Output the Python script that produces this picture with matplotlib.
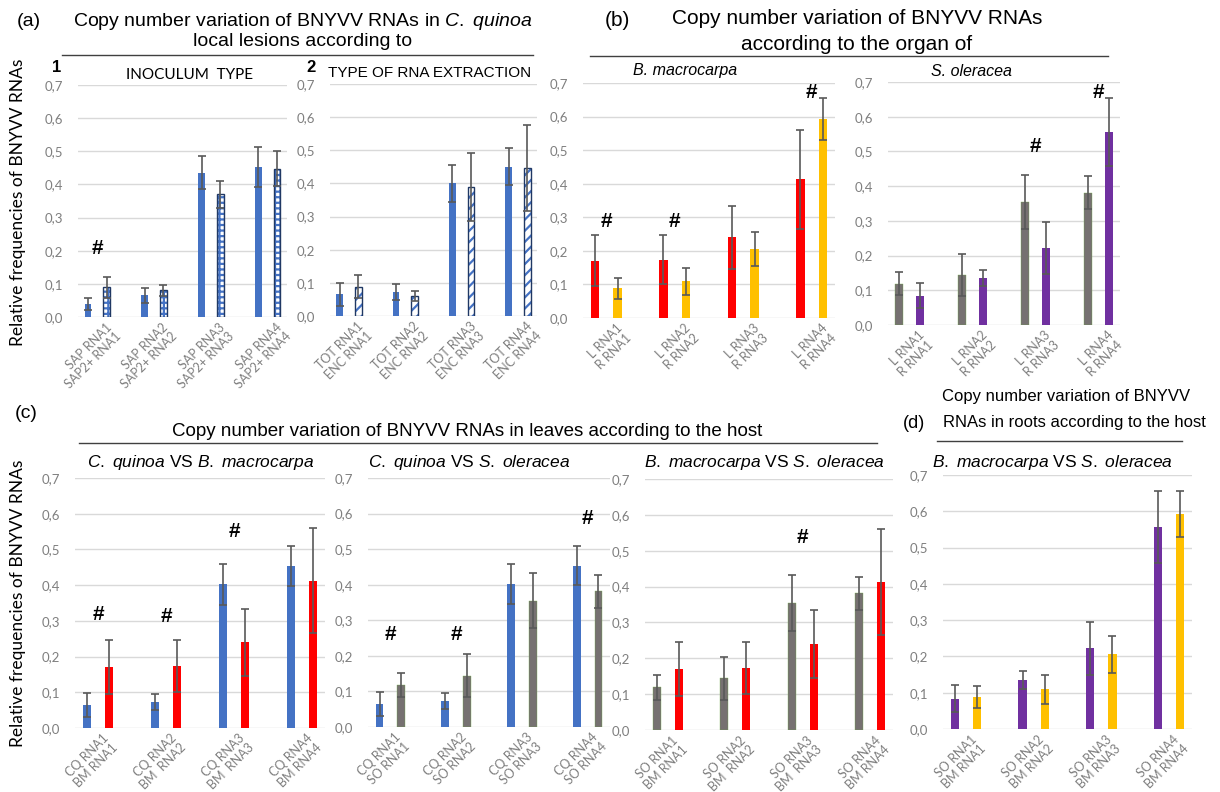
import numpy as np
import matplotlib.pyplot as plt
from matplotlib.lines import Line2D

# ---- data ----
rna = ['RNA1', 'RNA2', 'RNA3', 'RNA4']

# (a) C. quinoa local lesions
sap_val = [0.040, 0.065, 0.435, 0.453]
sap_err = [0.018, 0.022, 0.050, 0.061]
sap2_val = [0.090, 0.080, 0.370, 0.448]
sap2_err = [0.032, 0.017, 0.040, 0.053]
tot_val = [0.066, 0.073, 0.400, 0.451]
tot_err = [0.035, 0.024, 0.057, 0.056]
enc_val = [0.089, 0.060, 0.390, 0.446]
enc_err = [0.034, 0.014, 0.102, 0.130]

# leaves / roots per host
cq_leaf_val = [0.065, 0.073, 0.402, 0.454]
cq_leaf_err = [0.034, 0.023, 0.057, 0.055]
bm_leaf_val = [0.171, 0.173, 0.240, 0.413]
bm_leaf_err = [0.075, 0.073, 0.094, 0.148]
bm_root_val = [0.088, 0.109, 0.206, 0.592]
bm_root_err = [0.030, 0.039, 0.051, 0.063]
so_leaf_val = [0.119, 0.144, 0.355, 0.381]
so_leaf_err = [0.034, 0.060, 0.078, 0.047]
so_root_val = [0.084, 0.135, 0.222, 0.556]
so_root_err = [0.036, 0.024, 0.074, 0.099]

# significance marks (#): group index -> height
marks_a1 = {0: 0.206}
marks_a2 = {}
marks_b1 = {0: 0.286, 1: 0.286, 3: 0.673}
marks_b2 = {2: 0.513, 3: 0.671}
marks_c1 = {0: 0.319, 1: 0.313, 2: 0.551}
marks_c2 = {0: 0.261, 1: 0.261, 3: 0.585}
marks_c3 = {2: 0.537}
marks_d = {}

labels_a1 = [f'SAP {r}\nSAP2+ {r}' for r in rna]
labels_a2 = [f'TOT {r}\nENC {r}' for r in rna]
labels_b = [f'L {r}\nR {r}' for r in rna]
labels_c1 = ['CQ RNA1\nBM RNA1', 'CQ RNA2\nBM  RNA2', 'CQ RNA3\nBM  RNA3', 'CQ RNA4\nBM RNA4']
labels_c2 = [f'CQ {r}\nSO {r}' for r in rna]
labels_c3 = ['SO RNA1\nBM RNA1', 'SO RNA2\nBM  RNA2', 'SO RNA3\nBM  RNA3', 'SO RNA4\nBM RNA4']
labels_d = [f'SO {r}\nBM {r}' for r in rna]

# ---- styles ----
BLUE = '#4472C4'
NAVY = '#203864'
RED = '#FF0000'
GOLD = '#FFC000'
PURPLE = '#7030A0'
GREY = '#767171'
GREEN = '#70AD47'

plt.rcParams['mathtext.fontset'] = 'custom'
plt.rcParams['mathtext.rm'] = 'Liberation Sans'
plt.rcParams['mathtext.it'] = 'Liberation Sans:italic'
plt.rcParams['hatch.linewidth'] = 1.6

TITLE = ['Liberation Sans', 'DejaVu Sans']
NARROW = ['Liberation Sans Narrow', 'Liberation Sans', 'DejaVu Sans']
CAL = ['Lato', 'DejaVu Sans']

W, H = 1220, 792
fig = plt.figure(figsize=(W / 100, H / 100), dpi=100)


def ftext(x, y, s, **kw):
    fig.text(x / W, 1 - y / H, s, **kw)


def hline(x0, x1, y):
    fig.add_artist(Line2D([x0 / W, x1 / W], [1 - y / H, 1 - y / H],
                          color='#404040', lw=1.0))


def add_ax(x0, x1, ytop, ybot):
    return fig.add_axes([x0 / W, 1 - ybot / H, (x1 - x0) / W, (ybot - ytop) / H])


def draw_bars(ax, x, vals, errs, kind):
    w = 0.12
    if kind == 'check':
        ax.bar(x, vals, w, color='white', edgecolor=BLUE, hatch='+++', lw=0, zorder=2)
        ax.bar(x, vals, w, fill=False, edgecolor=NAVY, lw=1.0, zorder=3)
    elif kind == 'stripe':
        ax.bar(x, vals, w, color='white', edgecolor=BLUE, hatch='///', lw=0, zorder=2)
        ax.bar(x, vals, w, fill=False, edgecolor=NAVY, lw=1.0, zorder=3)
    elif kind == GREY:
        ax.bar(x, vals, w, color=GREY, edgecolor=GREEN, lw=0.25, zorder=2)
    else:
        ax.bar(x, vals, w, color=kind, lw=0, zorder=2)
    ax.errorbar(x, vals, yerr=errs, fmt='none', ecolor='#595959', elinewidth=1.2,
                capsize=3, capthick=1.2, zorder=4)


def panel(ax, lv, le, rv, re, lkind, rkind, labels, marks, lab_shift=0.14):
    g = np.arange(4)
    draw_bars(ax, g - 0.165, lv, le, lkind)
    draw_bars(ax, g + 0.165, rv, re, rkind)
    for i, yv in marks.items():
        ax.text(i, yv, '#', ha='center', va='center', fontsize=15, weight='bold',
                family=TITLE)
    ax.set_xlim(-0.34, 3.34)
    ax.set_ylim(0, 0.7)
    ax.set_yticks(np.arange(0, 0.71, 0.1))
    ax.set_yticklabels([f'{v:.1f}'.replace('.', ',') for v in np.arange(0, 0.71, 0.1)],
                       family=CAL, fontsize=9.5, color='#7F7F7F')
    ax.set_xticks(g + lab_shift)
    ax.set_xticklabels(labels, rotation=45, ha='right', va='top', rotation_mode='anchor',
                       family=CAL, fontsize=9, color='#7F7F7F', linespacing=1.1)
    ax.tick_params(length=0, axis='y', pad=11)
    ax.tick_params(length=0, axis='x', pad=3)
    ax.yaxis.grid(True, color='#D9D9D9', lw=1.0, zorder=0)
    ax.set_axisbelow(True)
    for s in ax.spines.values():
        s.set_visible(False)
    ax.patch.set_alpha(0)


# ---- (a) ----
ax = add_ax(78, 287, 85, 317)
panel(ax, sap_val, sap_err, sap2_val, sap2_err, BLUE, 'check', labels_a1, marks_a1)
ax = add_ax(330, 537, 84, 316)
panel(ax, tot_val, tot_err, enc_val, enc_err, BLUE, 'stripe', labels_a2, marks_a2)

ftext(17, 22, '(a)', fontsize=14, family=TITLE, va='center')
ftext(303, 22, r'Copy number variation of BNYVV RNAs in $\mathit{C.}$ $\mathit{quinoa}$',
      fontsize=14, family=TITLE, ha='center', va='center')
ftext(303, 42, 'local lesions according to', fontsize=14, family=TITLE,
      ha='center', va='center')
hline(62, 533, 55)
ftext(57, 68, '1', fontsize=12, weight='bold', family=TITLE, ha='center', va='center')
ftext(190, 75, 'INOCULUM  TYPE', fontsize=11, family=CAL, ha='center', va='center')
ftext(311, 67, '2', fontsize=12, weight='bold', family=TITLE, ha='center', va='center')
ftext(430, 73, 'TYPE OF RNA EXTRACTION', fontsize=11, family=NARROW,
      ha='center', va='center')

# ---- (b) ----
ax = add_ax(583, 835, 83, 318)
panel(ax, bm_leaf_val, bm_leaf_err, bm_root_val, bm_root_err, RED, GOLD, labels_b, marks_b1)
ax = add_ax(888, 1120, 82, 325)
panel(ax, so_leaf_val, so_leaf_err, so_root_val, so_root_err, GREY, PURPLE, labels_b, marks_b2)

ftext(605, 20, '(b)', fontsize=15, family=NARROW, va='center')
ftext(857, 19, 'Copy number variation of BNYVV RNAs', fontsize=15, family=NARROW,
      ha='center', va='center')
ftext(857, 44, 'according to the organ of', fontsize=15, family=NARROW,
      ha='center', va='center')
hline(590, 1108, 56)
ftext(685, 71, 'B. macrocarpa', fontsize=11.5, style='italic', family=NARROW,
      ha='center', va='center')
ftext(971, 72, 'S. oleracea', fontsize=11.5, style='italic', family=NARROW,
      ha='center', va='center')

# ---- (c) ----
ax = add_ax(75, 325, 478, 728)
panel(ax, cq_leaf_val, cq_leaf_err, bm_leaf_val, bm_leaf_err, BLUE, RED, labels_c1, marks_c1, 0.06)
ax = add_ax(368, 610, 478, 727)
panel(ax, cq_leaf_val, cq_leaf_err, so_leaf_val, so_leaf_err, BLUE, GREY, labels_c2, marks_c2, 0.06)
ax = add_ax(645, 893, 479, 730)
panel(ax, so_leaf_val, so_leaf_err, bm_leaf_val, bm_leaf_err, GREY, RED, labels_c3, marks_c3, 0.06)

ftext(15, 414, '(c)', fontsize=14, family=TITLE, va='center')
ftext(467, 432, 'Copy number variation of BNYVV RNAs in leaves according to the host',
      fontsize=13.5, family=TITLE, ha='center', va='center')
hline(79, 877, 443)
ftext(201, 463, r'$\mathit{C.}$ $\mathit{quinoa}$ VS $\mathit{B.}$ $\mathit{macrocarpa}$',
      fontsize=12.5, family=TITLE, ha='center', va='center')
ftext(469, 463, r'$\mathit{C.}$ $\mathit{quinoa}$ VS $\mathit{S.}$ $\mathit{oleracea}$',
      fontsize=12.5, family=TITLE, ha='center', va='center')
ftext(764, 462, r'$\mathit{B.}$ $\mathit{macrocarpa}$ VS $\mathit{S.}$ $\mathit{oleracea}$',
      fontsize=12.5, family=TITLE, ha='center', va='center')

# ---- (d) ----
ax = add_ax(943, 1192, 475, 729)
panel(ax, so_root_val, so_root_err, bm_root_val, bm_root_err, PURPLE, GOLD, labels_d, marks_d, 0.06)

ftext(1066, 397, 'Copy number variation of BNYVV', fontsize=12, family=TITLE,
      ha='center', va='center')
ftext(1074, 423, 'RNAs in roots according to the host', fontsize=12, family=TITLE,
      ha='center', va='center')
ftext(903, 423, '(d)', fontsize=13, family=TITLE, va='center')
hline(937, 1182, 441)
ftext(1052, 463, r'$\mathit{B.}$ $\mathit{macrocarpa}$ VS $\mathit{S.}$ $\mathit{oleracea}$',
      fontsize=12.5, family=TITLE, ha='center', va='center')

# y labels
ftext(18, 202, 'Relative frequencies of BNYVV RNAs', fontsize=12.5, family=CAL,
      rotation=90, ha='center', va='center')
ftext(18, 603, 'Relative frequencies of BNYVV RNAs', fontsize=12.5, family=CAL,
      rotation=90, ha='center', va='center')

fig.savefig('out.png', dpi=100)
